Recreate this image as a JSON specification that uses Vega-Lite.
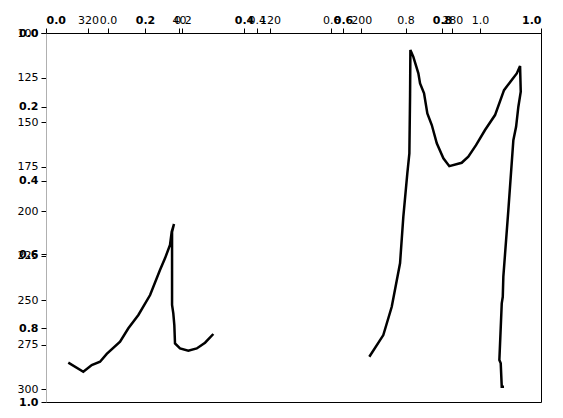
{
  "$schema": "https://vega.github.io/schema/vega-lite/v6.json",
  "width": 495,
  "height": 369,
  "autosize": {"type": "none"},
  "padding": {"left": 46, "top": 33, "right": 22, "bottom": 16},
  "background": "white",
  "config": {
    "view": {"stroke": "black", "strokeWidth": 1},
    "axis": {
      "labelFont": "DejaVu Sans",
      "labelFontSize": 11,
      "labelColor": "black",
      "tickColor": "black",
      "domainColor": "black",
      "grid": false,
      "tickSize": 5,
      "labelPadding": 3,
      "title": null
    }
  },
  "layer": [
    {
      "data": {
        "values": [
          {"seg": "a", "i": 1, "lon": -57.4, "lev": 285.2},
          {"seg": "a", "i": 2, "lon": -44.2, "lev": 290.3},
          {"seg": "a", "i": 3, "lon": -36.8, "lev": 286.5},
          {"seg": "a", "i": 4, "lon": -29.5, "lev": 284.7},
          {"seg": "a", "i": 5, "lon": -23.6, "lev": 280.3},
          {"seg": "a", "i": 6, "lon": -11.9, "lev": 273.4},
          {"seg": "a", "i": 7, "lon": -4.6, "lev": 265.9},
          {"seg": "a", "i": 8, "lon": 4.2, "lev": 258.4},
          {"seg": "a", "i": 9, "lon": 14.5, "lev": 247.2},
          {"seg": "a", "i": 10, "lon": 23.2, "lev": 233.2},
          {"seg": "a", "i": 11, "lon": 27.6, "lev": 226.6},
          {"seg": "a", "i": 12, "lon": 32.0, "lev": 219.1},
          {"seg": "a", "i": 13, "lon": 33.5, "lev": 211.6},
          {"seg": "a", "i": 14, "lon": 34.4, "lev": 209.7},
          {"seg": "a", "i": 15, "lon": 35.5, "lev": 207.3},
          {"seg": "a", "i": 16, "lon": 33.8, "lev": 211.8},
          {"seg": "a", "i": 17, "lon": 33.8, "lev": 252.8},
          {"seg": "a", "i": 18, "lon": 34.9, "lev": 257.5},
          {"seg": "a", "i": 19, "lon": 35.8, "lev": 264.1},
          {"seg": "a", "i": 20, "lon": 36.4, "lev": 274.4},
          {"seg": "a", "i": 21, "lon": 40.8, "lev": 277.2},
          {"seg": "a", "i": 22, "lon": 48.1, "lev": 278.5},
          {"seg": "a", "i": 23, "lon": 55.5, "lev": 277.2},
          {"seg": "a", "i": 24, "lon": 62.8, "lev": 274.0},
          {"seg": "a", "i": 25, "lon": 70.1, "lev": 269.1},
          {"seg": "b", "i": 1, "lon": 207.2, "lev": 281.9},
          {"seg": "b", "i": 2, "lon": 219.5, "lev": 269.7},
          {"seg": "b", "i": 3, "lon": 226.9, "lev": 253.8},
          {"seg": "b", "i": 4, "lon": 234.2, "lev": 229.4},
          {"seg": "b", "i": 5, "lon": 237.1, "lev": 203.2},
          {"seg": "b", "i": 6, "lon": 240.6, "lev": 178.9},
          {"seg": "b", "i": 7, "lon": 242.4, "lev": 167.6},
          {"seg": "b", "i": 8, "lon": 243.0, "lev": 135.8},
          {"seg": "b", "i": 9, "lon": 243.3, "lev": 109.6},
          {"seg": "b", "i": 10, "lon": 245.9, "lev": 113.4},
          {"seg": "b", "i": 11, "lon": 250.3, "lev": 122.7},
          {"seg": "b", "i": 12, "lon": 251.8, "lev": 128.3},
          {"seg": "b", "i": 13, "lon": 255.3, "lev": 133.9},
          {"seg": "b", "i": 14, "lon": 258.2, "lev": 145.2},
          {"seg": "b", "i": 15, "lon": 262.1, "lev": 151.7},
          {"seg": "b", "i": 16, "lon": 266.5, "lev": 162.0},
          {"seg": "b", "i": 17, "lon": 272.3, "lev": 170.4},
          {"seg": "b", "i": 18, "lon": 277.5, "lev": 174.8},
          {"seg": "b", "i": 19, "lon": 288.4, "lev": 172.9},
          {"seg": "b", "i": 20, "lon": 294.2, "lev": 169.5},
          {"seg": "b", "i": 21, "lon": 301.0, "lev": 163.0},
          {"seg": "b", "i": 22, "lon": 308.9, "lev": 154.5},
          {"seg": "b", "i": 23, "lon": 317.7, "lev": 146.1},
          {"seg": "b", "i": 24, "lon": 325.6, "lev": 132.1},
          {"seg": "b", "i": 25, "lon": 332.4, "lev": 126.4},
          {"seg": "b", "i": 26, "lon": 336.8, "lev": 122.7},
          {"seg": "b", "i": 27, "lon": 339.7, "lev": 118.6},
          {"seg": "b", "i": 28, "lon": 340.3, "lev": 133.0},
          {"seg": "b", "i": 29, "lon": 338.2, "lev": 141.4},
          {"seg": "b", "i": 30, "lon": 336.2, "lev": 152.7},
          {"seg": "b", "i": 31, "lon": 333.8, "lev": 160.2},
          {"seg": "b", "i": 32, "lon": 329.4, "lev": 199.5},
          {"seg": "b", "i": 33, "lon": 325.0, "lev": 236.9},
          {"seg": "b", "i": 34, "lon": 324.5, "lev": 248.2},
          {"seg": "b", "i": 35, "lon": 323.6, "lev": 251.9},
          {"seg": "b", "i": 36, "lon": 321.5, "lev": 283.7},
          {"seg": "b", "i": 37, "lon": 322.7, "lev": 285.6},
          {"seg": "b", "i": 38, "lon": 323.6, "lev": 298.7},
          {"seg": "b", "i": 39, "lon": 325.6, "lev": 298.7}
        ]
      },
      "mark": {"type": "line", "color": "black", "strokeWidth": 2.5},
      "encoding": {
        "x": {
          "field": "lon",
          "type": "quantitative",
          "scale": {"domain": [-77, 358.1], "nice": false, "zero": false},
          "axis": {
            "orient": "top",
            "values": [-40, 40, 120, 200, 280],
            "labelExpr": "datum.value < 0 ? datum.value + 360 : datum.value",
            "domain": true
          }
        },
        "y": {
          "field": "lev",
          "type": "quantitative",
          "scale": {"domain": [100, 307.3], "reverse": true, "nice": false, "zero": false},
          "axis": {
            "orient": "left",
            "values": [100, 125, 150, 175, 200, 225, 250, 275, 300],
            "domainColor": "#b0b0b0"
          }
        },
        "detail": {"field": "seg"},
        "order": {"field": "i", "type": "quantitative"}
      }
    },
    {
      "data": {"values": [{"u": 0, "v": 0}]},
      "mark": {"type": "point", "opacity": 0},
      "encoding": {
        "x": {
          "field": "u",
          "type": "quantitative",
          "scale": {"domain": [0, 1], "nice": false},
          "axis": {"orient": "top", "values": [0, 0.2, 0.4, 0.6, 0.8, 1], "format": ".1f", "labelFontWeight": "bold", "domain": false}
        },
        "y": {
          "field": "v",
          "type": "quantitative",
          "scale": {"domain": [0, 1], "reverse": true, "nice": false},
          "axis": {"orient": "left", "values": [0, 0.2, 0.4, 0.6, 0.8, 1], "format": ".1f", "labelFontWeight": "bold", "domain": false}
        }
      }
    },
    {
      "data": {"values": [{"w": 0}]},
      "mark": {"type": "point", "opacity": 0},
      "encoding": {
        "x": {
          "field": "w",
          "type": "quantitative",
          "scale": {"domain": [-0.1667, 1.164], "nice": false, "zero": false},
          "axis": {"orient": "top", "values": [0, 0.2, 0.4, 0.6, 0.8, 1], "format": ".1f", "domain": false}
        }
      }
    }
  ],
  "resolve": {"scale": {"x": "independent", "y": "independent"}}
}
